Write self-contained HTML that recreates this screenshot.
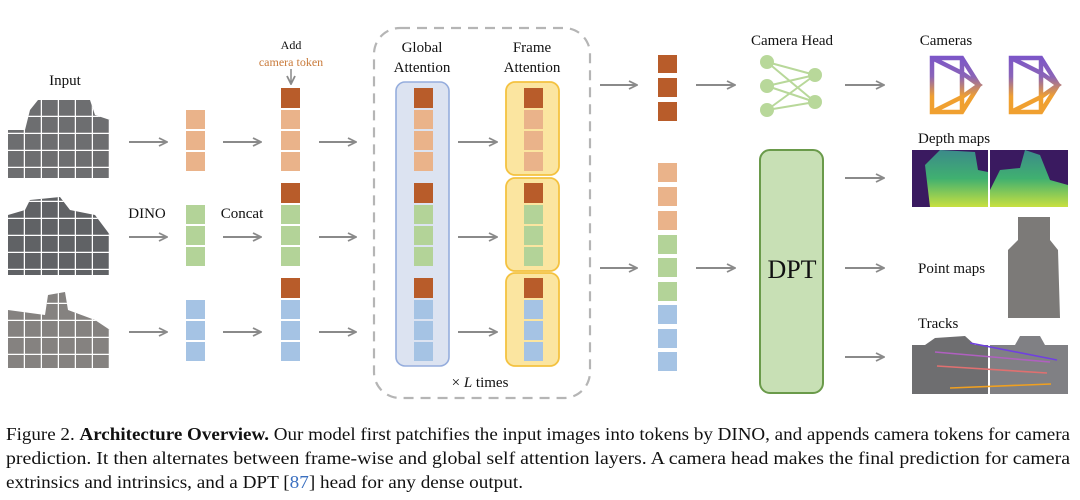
<!DOCTYPE html>
<html><head><meta charset="utf-8"><style>
html,body{margin:0;padding:0;background:#fff;}
svg{display:block;}
text{font-family:"Liberation Serif",serif;fill:#111;}
</style></head><body>
<svg width="1080" height="500" viewBox="0 0 1080 500" xmlns="http://www.w3.org/2000/svg">
<defs>
<marker id="ah" markerWidth="10" markerHeight="10" refX="9" refY="5" orient="auto" markerUnits="userSpaceOnUse">
<path d="M1,1 L9,5 L1,9" fill="none" stroke="#8a8a8a" stroke-width="1.8"/>
</marker>
<linearGradient id="cg" gradientUnits="userSpaceOnUse" x1="0" y1="56" x2="0" y2="114">
<stop offset="0" stop-color="#7b55c8"/><stop offset="0.35" stop-color="#8a64b8"/><stop offset="0.7" stop-color="#f0a030"/><stop offset="1" stop-color="#f0a030"/>
</linearGradient>
<linearGradient id="dg" x1="0" y1="0" x2="0" y2="1">
<stop offset="0" stop-color="#3b8a8a"/><stop offset="0.5" stop-color="#40b070"/><stop offset="1" stop-color="#c8e040"/>
</linearGradient>
<pattern id="grid" width="17" height="17" patternUnits="userSpaceOnUse" x="8" y="100">
<rect width="17" height="17" fill="none"/>
<path d="M16.5,0 V17 M0,16.5 H17" stroke="#fff" stroke-width="1.5"/>
</pattern>
</defs>

<!-- input images -->
<g>
<path d="M7,130 L25,130 L30,110 L38,100 L90,100 L95,115 L110,120 L110,178 L7,178 Z" fill="#6d6e70"/>
<path d="M7,130 L25,130 L30,110 L38,100 L90,100 L95,115 L110,120 L110,178 L7,178 Z" fill="url(#grid)"/>
<path d="M8,215 L25,210 L30,200 L60,197 L70,210 L95,215 L110,235 L110,275 L8,275 Z" fill="#606265"/>
<path d="M8,215 L25,210 L30,200 L60,197 L70,210 L95,215 L110,235 L110,275 L8,275 Z" fill="url(#grid)"/>
<path d="M8,310 L45,315 L48,295 L65,292 L68,310 L95,320 L110,330 L110,368 L8,368 Z" fill="#858280"/>
<path d="M8,310 L45,315 L48,295 L65,292 L68,310 L95,320 L110,330 L110,368 L8,368 Z" fill="url(#grid)"/>
</g>
<text x="65" y="85" font-size="15" text-anchor="middle">Input</text>
<text x="147" y="218" font-size="15" text-anchor="middle">DINO</text>
<text x="242" y="218" font-size="15" text-anchor="middle">Concat</text>
<text x="291" y="49" font-size="12" text-anchor="middle">Add</text>
<text x="291" y="66" font-size="12" text-anchor="middle" style="fill:#c97a3a">camera token</text>
<line x1="291" y1="69" x2="291" y2="84" stroke="#777" stroke-width="1.3" marker-end="url(#ah)"/>

<!-- arrows -->
<g stroke="#8a8a8a" stroke-width="2" marker-end="url(#ah)">
<line x1="129" y1="142" x2="167" y2="142"/><line x1="129" y1="237" x2="167" y2="237"/><line x1="129" y1="332" x2="167" y2="332"/>
<line x1="223" y1="142" x2="261" y2="142"/><line x1="223" y1="237" x2="261" y2="237"/><line x1="223" y1="332" x2="261" y2="332"/>
<line x1="319" y1="142" x2="356" y2="142"/><line x1="319" y1="237" x2="356" y2="237"/><line x1="319" y1="332" x2="356" y2="332"/>
<line x1="458" y1="142" x2="497" y2="142"/><line x1="458" y1="237" x2="497" y2="237"/><line x1="458" y1="332" x2="497" y2="332"/>
<line x1="600" y1="85" x2="637" y2="85"/><line x1="600" y1="268" x2="637" y2="268"/>
<line x1="696" y1="85" x2="735" y2="85"/><line x1="696" y1="268" x2="735" y2="268"/>
<line x1="845" y1="85" x2="884" y2="85"/>
<line x1="845" y1="178" x2="884" y2="178"/><line x1="845" y1="268" x2="884" y2="268"/><line x1="845" y1="357" x2="884" y2="357"/>
</g>

<!-- token column 1 -->
<g>
<rect x="186" y="110" width="19" height="19" fill="#eab38a"/><rect x="186" y="131" width="19" height="19" fill="#eab38a"/><rect x="186" y="152" width="19" height="19" fill="#eab38a"/>
<rect x="186" y="205" width="19" height="19" fill="#b3d398"/><rect x="186" y="226" width="19" height="19" fill="#b3d398"/><rect x="186" y="247" width="19" height="19" fill="#b3d398"/>
<rect x="186" y="300" width="19" height="19" fill="#a5c3e4"/><rect x="186" y="321" width="19" height="19" fill="#a5c3e4"/><rect x="186" y="342" width="19" height="19" fill="#a5c3e4"/>
</g>
<!-- token column 2 -->
<g>
<rect x="281" y="88" width="19" height="20" fill="#b85c2a"/>
<rect x="281" y="110" width="19" height="19" fill="#eab38a"/><rect x="281" y="131" width="19" height="19" fill="#eab38a"/><rect x="281" y="152" width="19" height="19" fill="#eab38a"/>
<rect x="281" y="183" width="19" height="20" fill="#b85c2a"/>
<rect x="281" y="205" width="19" height="19" fill="#b3d398"/><rect x="281" y="226" width="19" height="19" fill="#b3d398"/><rect x="281" y="247" width="19" height="19" fill="#b3d398"/>
<rect x="281" y="278" width="19" height="20" fill="#b85c2a"/>
<rect x="281" y="300" width="19" height="19" fill="#a5c3e4"/><rect x="281" y="321" width="19" height="19" fill="#a5c3e4"/><rect x="281" y="342" width="19" height="19" fill="#a5c3e4"/>
</g>

<!-- dashed box -->
<rect x="374" y="28" width="216" height="370" rx="26" fill="none" stroke="#b5b5b5" stroke-width="2.2" stroke-dasharray="10,7"/>
<text x="422" y="52" font-size="15" text-anchor="middle">Global</text>
<text x="422" y="72" font-size="15" text-anchor="middle">Attention</text>
<text x="532" y="52" font-size="15" text-anchor="middle">Frame</text>
<text x="532" y="72" font-size="15" text-anchor="middle">Attention</text>
<text x="480" y="387" font-size="15" text-anchor="middle">× <tspan font-style="italic">L</tspan> times</text>

<rect x="396" y="82" width="53" height="284" rx="9" fill="#dce3f1" stroke="#95addd" stroke-width="1.6"/>
<rect x="506" y="82" width="53" height="93" rx="9" fill="#fbe5a0" stroke="#f4c240" stroke-width="1.8"/>
<rect x="506" y="178" width="53" height="93" rx="9" fill="#fbe5a0" stroke="#f4c240" stroke-width="1.8"/>
<rect x="506" y="273" width="53" height="93" rx="9" fill="#fbe5a0" stroke="#f4c240" stroke-width="1.8"/>
<g>
<rect x="414" y="88" width="19" height="20" fill="#b85c2a"/>
<rect x="414" y="110" width="19" height="19" fill="#eab38a"/><rect x="414" y="131" width="19" height="19" fill="#eab38a"/><rect x="414" y="152" width="19" height="19" fill="#eab38a"/>
<rect x="414" y="183" width="19" height="20" fill="#b85c2a"/>
<rect x="414" y="205" width="19" height="19" fill="#b3d398"/><rect x="414" y="226" width="19" height="19" fill="#b3d398"/><rect x="414" y="247" width="19" height="19" fill="#b3d398"/>
<rect x="414" y="278" width="19" height="20" fill="#b85c2a"/>
<rect x="414" y="300" width="19" height="19" fill="#a5c3e4"/><rect x="414" y="321" width="19" height="19" fill="#a5c3e4"/><rect x="414" y="342" width="19" height="19" fill="#a5c3e4"/>
</g>
<g>
<rect x="524" y="88" width="19" height="20" fill="#b85c2a"/>
<rect x="524" y="110" width="19" height="19" fill="#eab38a"/><rect x="524" y="131" width="19" height="19" fill="#eab38a"/><rect x="524" y="152" width="19" height="19" fill="#eab38a"/>
<rect x="524" y="183" width="19" height="20" fill="#b85c2a"/>
<rect x="524" y="205" width="19" height="19" fill="#b3d398"/><rect x="524" y="226" width="19" height="19" fill="#b3d398"/><rect x="524" y="247" width="19" height="19" fill="#b3d398"/>
<rect x="524" y="278" width="19" height="20" fill="#b85c2a"/>
<rect x="524" y="300" width="19" height="19" fill="#a5c3e4"/><rect x="524" y="321" width="19" height="19" fill="#a5c3e4"/><rect x="524" y="342" width="19" height="19" fill="#a5c3e4"/>
</g>

<!-- output tokens -->
<g>
<rect x="658" y="55" width="19" height="18" fill="#b85c2a"/><rect x="658" y="78" width="19" height="19" fill="#b85c2a"/><rect x="658" y="102" width="19" height="19" fill="#b85c2a"/>
<rect x="658" y="163" width="19" height="19" fill="#eab38a"/><rect x="658" y="187" width="19" height="19" fill="#eab38a"/><rect x="658" y="211" width="19" height="19" fill="#eab38a"/>
<rect x="658" y="235" width="19" height="19" fill="#b3d398"/><rect x="658" y="258" width="19" height="19" fill="#b3d398"/><rect x="658" y="282" width="19" height="19" fill="#b3d398"/>
<rect x="658" y="305" width="19" height="19" fill="#a5c3e4"/><rect x="658" y="329" width="19" height="19" fill="#a5c3e4"/><rect x="658" y="352" width="19" height="19" fill="#a5c3e4"/>
</g>

<!-- camera head -->
<text x="792" y="45" font-size="15" text-anchor="middle">Camera Head</text>
<g stroke="#b8d89a" stroke-width="2">
<line x1="767" y1="62" x2="815" y2="75"/><line x1="767" y1="62" x2="815" y2="102"/>
<line x1="767" y1="86" x2="815" y2="75"/><line x1="767" y1="86" x2="815" y2="102"/>
<line x1="767" y1="110" x2="815" y2="75"/><line x1="767" y1="110" x2="815" y2="102"/>
</g>
<g fill="#b8d89a">
<circle cx="767" cy="62" r="7"/><circle cx="767" cy="86" r="7"/><circle cx="767" cy="110" r="7"/>
<circle cx="815" cy="75" r="7"/><circle cx="815" cy="102" r="7"/>
</g>

<!-- DPT -->
<rect x="760" y="150" width="63" height="243" rx="10" fill="#c8e0b5" stroke="#6a9a4a" stroke-width="2"/>
<text x="792" y="278" font-size="26" text-anchor="middle">DPT</text>

<!-- cameras -->
<text x="946" y="45" font-size="15" text-anchor="middle">Cameras</text>
<g fill="none" stroke="url(#cg)" stroke-width="4.5" stroke-linejoin="miter">
<path d="M932,58 L962,58 L979,85 L962,112 L932,112 Z M932,58 L962,73 L979,85 L962,97 L932,112 M962,58 L962,112"/>
<path d="M1011,58 L1041,58 L1058,85 L1041,112 L1011,112 Z M1011,58 L1041,73 L1058,85 L1041,97 L1011,112 M1041,58 L1041,112"/>
</g>

<!-- depth maps -->
<text x="918" y="143" font-size="15">Depth maps</text>
<rect x="912" y="150" width="76" height="57" fill="#3a1a60"/>
<path d="M925,165 L940,150 L975,152 L978,170 L988,172 L988,207 L930,207 Z" fill="url(#dg)"/>
<rect x="990" y="150" width="78" height="57" fill="#3a1a60"/>
<path d="M990,190 L1000,170 L1020,168 L1025,150 L1040,155 L1050,180 L1068,185 L1068,207 L990,207 Z" fill="url(#dg)"/>

<!-- point maps -->
<text x="918" y="273" font-size="15">Point maps</text>
<path d="M1018,217 L1050,217 L1050,240 L1058,250 L1060,318 L1008,318 L1008,250 L1018,240 Z" fill="#7c7a78"/>

<!-- tracks -->
<text x="918" y="328" font-size="15">Tracks</text>
<rect x="912" y="345" width="76" height="49" fill="#6e6e70"/>
<path d="M925,345 L935,338 L965,336 L975,345 Z" fill="#6e6e70"/>
<rect x="990" y="345" width="78" height="49" fill="#808084"/>
<path d="M1015,345 L1020,336 L1040,336 L1045,345 Z" fill="#808084"/>
<g stroke-width="1.6">
<line x1="970" y1="343" x2="1057" y2="360" stroke="#7040e0"/>
<line x1="935" y1="352" x2="1050" y2="362" stroke="#b060c0"/>
<line x1="937" y1="366" x2="1047" y2="373" stroke="#e07070"/>
<line x1="950" y1="388" x2="1051" y2="384" stroke="#f0a020"/>
</g>

<!-- caption -->
<text x="6" y="440" font-size="18" textLength="1064" lengthAdjust="spacingAndGlyphs">Figure 2. <tspan font-weight="bold">Architecture Overview.</tspan> Our model first patchifies the input images into tokens by DINO, and appends camera tokens for camera</text>
<text x="6" y="464" font-size="18" textLength="1064" lengthAdjust="spacingAndGlyphs">prediction.  It then alternates between frame-wise and global self attention layers.  A camera head makes the final prediction for camera</text>
<text x="6" y="488" font-size="18" textLength="517" lengthAdjust="spacingAndGlyphs">extrinsics and intrinsics, and a DPT [<tspan style="fill:#3a6fc0">87</tspan>] head for any dense output.</text>
</svg>
</body></html>
